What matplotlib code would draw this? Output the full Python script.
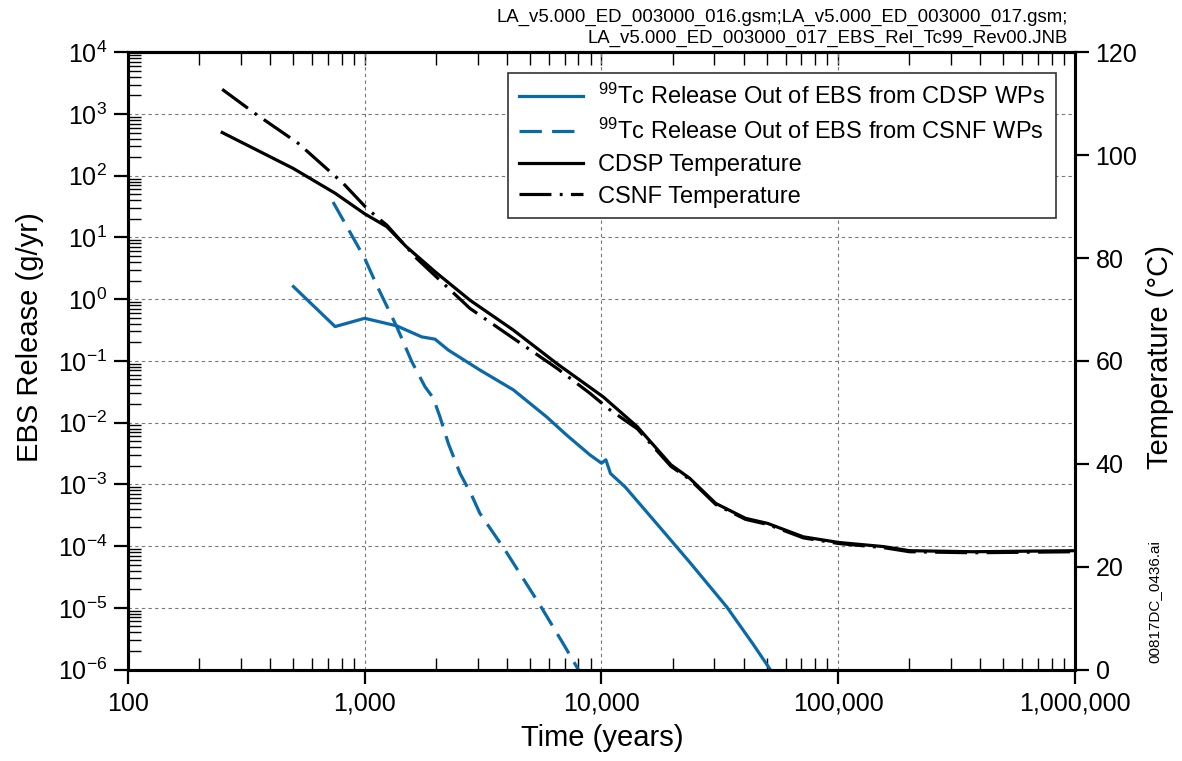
import matplotlib
matplotlib.use("Agg")
import matplotlib.pyplot as plt
from matplotlib.ticker import LogLocator, NullFormatter, FuncFormatter, MultipleLocator

plt.rcParams['font.family'] = ['Liberation Sans', 'DejaVu Sans']
plt.rcParams['mathtext.default'] = 'regular'

# 99Tc release out of EBS, CDSP waste packages (years, g/yr)
cdsp_rel_t = [500, 750, 1000, 1365, 1742, 1983, 2255, 3070, 4246, 5870, 7130,
              8950, 10020, 10450, 10930, 12600, 17600, 23600, 33900, 43700, 51700]
cdsp_rel = [1.6, 0.36, 0.49, 0.37, 0.245, 0.225, 0.15, 0.071, 0.034, 0.0124, 0.0063,
            0.003, 0.0022, 0.0025, 0.0015, 9.1e-4, 2.05e-4, 5.5e-5, 1.03e-5, 2.6e-6, 1.0e-6]

# 99Tc release out of EBS, CSNF waste packages
csnf_rel_t = [735, 1000, 1124, 1365, 1582, 1800, 1950, 2080, 2256, 2530, 2830,
              3066, 3920, 5510, 6910, 7990, 8300]
csnf_rel = [37.5, 4.6, 1.69, 0.36, 0.097, 0.038, 0.025, 0.0124, 0.0046, 0.0015, 6.7e-4,
            3.4e-4, 8.6e-5, 1.1e-5, 2.6e-6, 1.0e-6, 7e-7]

# waste package temperatures (years, deg C)
cdsp_temp_t = [250, 500, 750, 1000, 1240, 1500, 2000, 2786, 4246, 6476, 10190, 14190,
               19680, 23600, 30420, 40640, 50500, 71300, 100700, 155600, 200600, 371000, 1000000]
cdsp_temp = [104.4, 97.4, 92.6, 88.6, 86.1, 82.2, 77.2, 71.8, 66.0, 59.5, 53.0, 47.2,
             39.8, 37.2, 32.3, 29.4, 28.4, 25.8, 24.7, 23.9, 23.1, 22.9, 23.1]

csnf_temp_t = [250, 344, 524, 812, 1000, 1124, 1240, 1660, 2786, 4246, 6476, 8950, 10860,
               14190, 19680, 23600, 30420, 40640, 50500, 71300, 100700, 155600, 200600, 371000, 1000000]
csnf_temp = [112.8, 108.1, 102.3, 94.5, 90.1, 88.0, 86.4, 79.9, 70.2, 64.4, 58.6, 53.7, 50.5,
             46.8, 39.5, 37.0, 32.1, 29.2, 28.2, 25.6, 24.5, 23.7, 22.9, 22.7, 22.9]

labels = [r"$^{99}$Tc Release Out of EBS from CDSP WPs",
          r"$^{99}$Tc Release Out of EBS from CSNF WPs",
          "CDSP Temperature",
          "CSNF Temperature"]

header = ("LA_v5.000_ED_003000_016.gsm;LA_v5.000_ED_003000_017.gsm;\n"
          "LA_v5.000_ED_003000_017_EBS_Rel_Tc99_Rev00.JNB")

blue = '#0a69a8'
lw = 2.3

fig = plt.figure(figsize=(11.82, 7.61), dpi=100)
ax = fig.add_axes([0.1083, 0.1202, 0.8009, 0.8111])
ax2 = ax.twinx()

h1, = ax.plot(cdsp_rel_t, cdsp_rel, color=blue, lw=lw, solid_joinstyle='round')
h2, = ax.plot(csnf_rel_t, csnf_rel, color=blue, lw=lw, dashes=(7, 3.2))
h3, = ax2.plot(cdsp_temp_t, cdsp_temp, color='black', lw=lw)
h4, = ax2.plot(csnf_temp_t, csnf_temp, color='black', lw=lw,
               dashes=(10, 2.6, 0.9, 2.6), dash_capstyle='butt')

ax.set_xscale('log')
ax.set_yscale('log')
ax.set_xlim(100, 1e6)
ax.set_ylim(1e-6, 1e4)
ax2.set_ylim(0, 120)

ax.xaxis.set_major_locator(LogLocator(base=10, numticks=20))
ax.xaxis.set_minor_locator(LogLocator(base=10, subs=range(2, 10), numticks=100))
ax.xaxis.set_major_formatter(FuncFormatter(lambda v, _: f"{v:,.0f}"))
ax.xaxis.set_minor_formatter(NullFormatter())
ax.yaxis.set_major_locator(LogLocator(base=10, numticks=20))
ax.yaxis.set_minor_locator(LogLocator(base=10, subs=range(2, 10), numticks=100))
ax.yaxis.set_minor_formatter(NullFormatter())
ax2.yaxis.set_major_locator(MultipleLocator(20))

ax.grid(True, which='major', color='#777777', lw=0.8, linestyle=(0, (3, 3)))

ax.tick_params(which='major', direction='out', length=10, width=1.6, labelsize=18)
ax.tick_params(which='minor', direction='in', length=9, width=1.0)
ax.tick_params(axis='x', which='major', pad=6)
ax.tick_params(axis='y', which='major', pad=5)
ax2.tick_params(which='major', direction='out', length=10, width=1.6, labelsize=18, pad=5)

top = ax.secondary_xaxis('top')
top.xaxis.set_major_locator(LogLocator(base=10, numticks=20))
top.xaxis.set_minor_locator(LogLocator(base=10, subs=range(2, 10), numticks=100))
top.xaxis.set_major_formatter(NullFormatter())
top.xaxis.set_minor_formatter(NullFormatter())
top.tick_params(which='both', direction='in', length=9, width=1.0)

for a in (ax, ax2, top):
    for s in a.spines.values():
        s.set_linewidth(2.2)

ax.set_xlabel("Time (years)", fontsize=21)
ax.set_ylabel("EBS Release (g/yr)", fontsize=21)
ax2.set_ylabel("Temperature (°C)", fontsize=21)
for lab in (ax.xaxis.label, ax.yaxis.label, ax2.yaxis.label):
    lab.set_va('center')
ax.xaxis.set_label_coords(0.5007, -0.111)
ax.yaxis.set_label_coords(-0.1035, 0.538)
ax2.yaxis.set_label_coords(1.090, 0.507)

leg = ax2.legend([h1, h2, h3, h4], labels, loc='upper right',
                 bbox_to_anchor=(0.98, 0.9665), borderaxespad=0, fontsize=17,
                 handlelength=2.7, handletextpad=0.65, labelspacing=0.42,
                 fancybox=False, framealpha=1, edgecolor='#333333', borderpad=0.45)
leg.get_frame().set_linewidth(1.2)

fig.text(0.9036, 0.989, header, ha='right', va='top', fontsize=13.4, linespacing=1.3)
fig.text(0.977, 0.209, "00817DC_0436.ai", rotation=90, ha='center', va='center', fontsize=11)

fig.savefig("out.png", dpi=100)
